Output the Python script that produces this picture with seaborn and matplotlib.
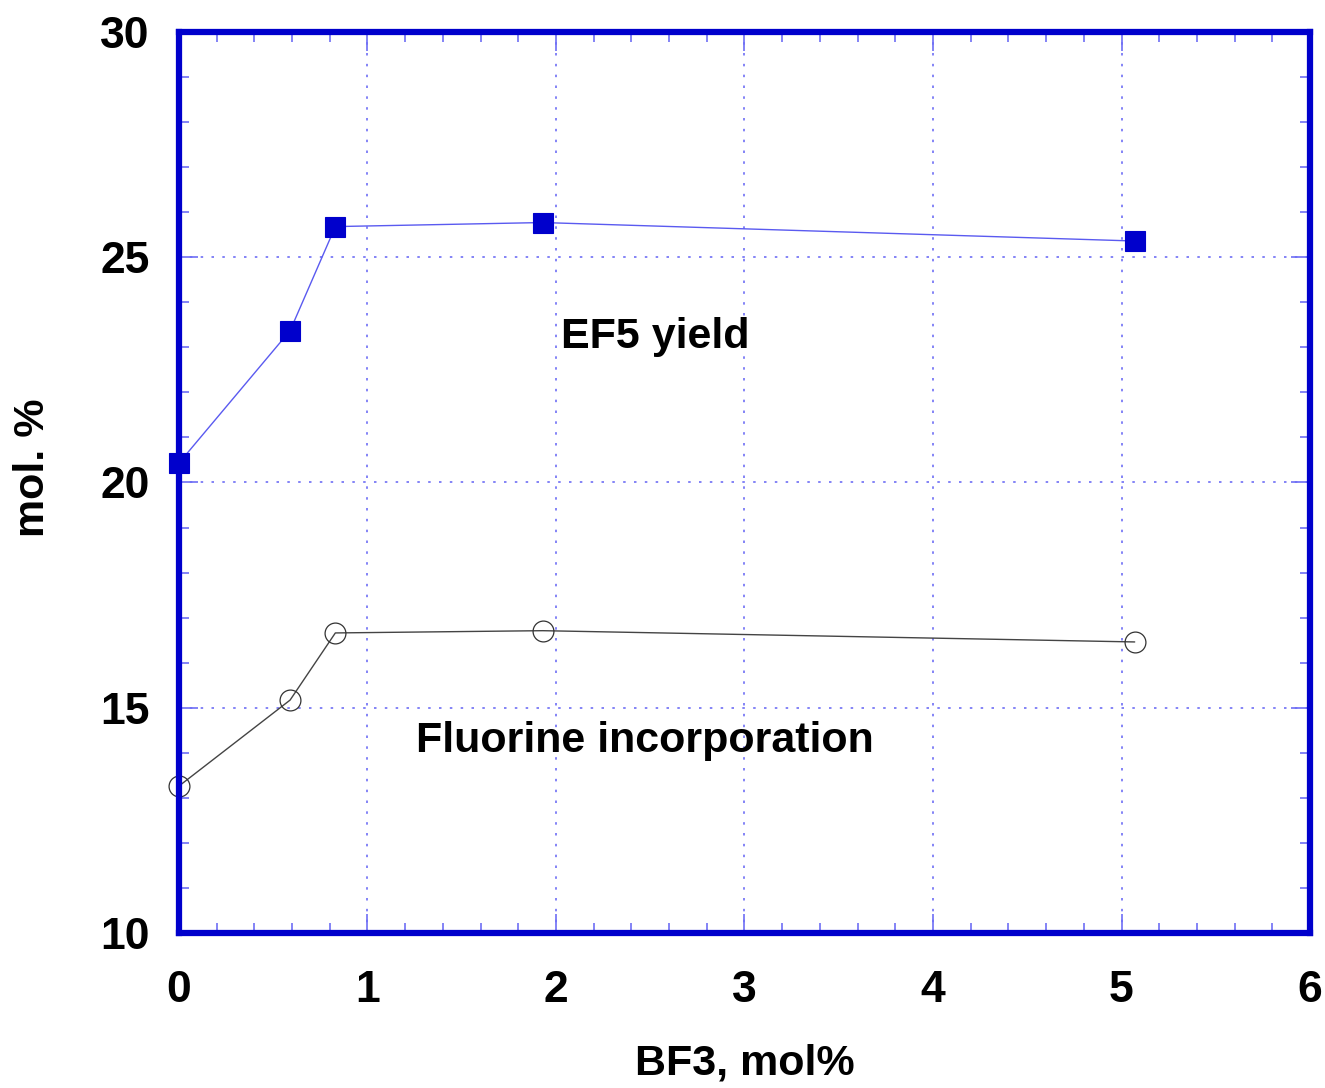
import matplotlib
matplotlib.use("Agg")
import matplotlib.pyplot as plt
import seaborn as sns
import pandas as pd
from matplotlib.ticker import MultipleLocator

bf3 = [0.0, 0.59, 0.83, 1.93, 5.07]
ef5_yield = [20.43, 23.37, 25.68, 25.77, 25.36]
fluorine_inc = [13.26, 15.17, 16.66, 16.71, 16.46]
x_ticks = [0, 1, 2, 3, 4, 5, 6]
y_ticks = [10, 15, 20, 25, 30]

sns.set_theme(style="white")
plt.rcParams['font.family'] = ['Liberation Sans', 'DejaVu Sans']
plt.rcParams['text.color'] = 'black'

df1 = pd.DataFrame({"x": bf3, "y": ef5_yield})
df2 = pd.DataFrame({"x": bf3, "y": fluorine_inc})

fig = plt.figure(figsize=(13.25, 10.88), dpi=100)
ax = fig.add_axes([0.135, 0.1425, 0.8537, 0.8281])

blue = "#0000cc"
ax.set_xlim(0, 6)
ax.set_ylim(10, 30)

sns.lineplot(data=df1, x="x", y="y", ax=ax, color="#5a5af0", linewidth=1.0,
             marker="s", markersize=14.5, markerfacecolor=blue,
             markeredgecolor=blue, markeredgewidth=0.8, clip_on=False,
             sort=False, zorder=4)
sns.lineplot(data=df2, x="x", y="y", ax=ax, color="#444444", linewidth=1.0,
             marker="o", markersize=15, markerfacecolor="none",
             markeredgecolor="#333333", markeredgewidth=0.9, clip_on=False,
             sort=False, zorder=4)

ax.set_xticks(x_ticks)
ax.set_yticks(y_ticks)
ax.xaxis.set_minor_locator(MultipleLocator(0.2))
ax.yaxis.set_minor_locator(MultipleLocator(1))
ax.grid(True, which="major", color="#6e6ef5", linestyle=(0, (1.5, 5)), linewidth=1.2)
ax.set_axisbelow(True)

for s in ax.spines.values():
    s.set_color(blue)
    s.set_linewidth(4.5)
    s.set_zorder(5)

ax.tick_params(which="major", direction="in", length=14, width=1.2, color="#6e6ef5",
               top=True, right=True, bottom=True, left=True)
ax.tick_params(which="minor", direction="in", length=7, width=1.2, color="#6e6ef5",
               top=True, right=True, bottom=True, left=True)
ax.tick_params(axis="x", which="major", pad=27)
ax.tick_params(axis="y", which="major", pad=21)
for lab in ax.get_xticklabels() + ax.get_yticklabels():
    lab.set_fontsize(32)
    lab.set_fontweight("bold")
    lab.set_color("black")

ax.set_xlabel("BF3, mol%", fontsize=31, fontweight="bold", labelpad=23, color="black")
ax.set_ylabel("mol. %", fontsize=31, fontweight="bold", labelpad=34, color="black")
ax.yaxis.label.set_y(0.516)

ax.text(2.525, 23.23, "EF5 yield", fontsize=31, fontweight="bold", ha="center",
        va="center", color="black")
ax.text(2.47, 14.26, "Fluorine incorporation", fontsize=31, fontweight="bold",
        ha="center", va="center", color="black")

fig.savefig("out.png", dpi=100)
